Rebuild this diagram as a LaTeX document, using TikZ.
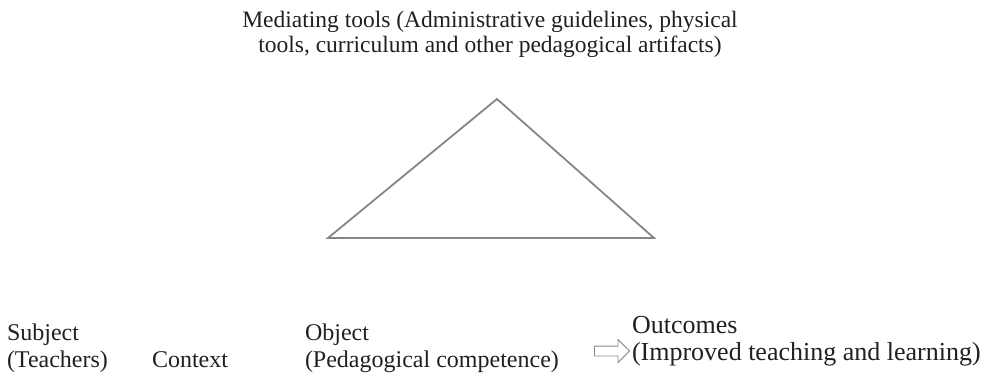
\documentclass[tikz,border=0pt]{standalone}
\usepackage{fontspec}
\setmainfont{Liberation Serif}
\usetikzlibrary{shapes.arrows}
\definecolor{linegray}{RGB}{135,135,128}
\definecolor{txt}{RGB}{35,31,32}
\tikzset{
  lbl/.style={inner sep=0pt, outer sep=0pt, text=txt, font=\fontsize{24}{27}\selectfont, align=left, anchor=base west},
  biglbl/.style={lbl, font=\fontsize{26}{27}\selectfont},
  toplbl/.style={inner sep=0pt, outer sep=0pt, text=txt, font=\fontsize{23.5}{25}\selectfont, align=center, anchor=base},
  tri/.style={draw=linegray, line width=1.8pt, line join=miter},
  hollowarrow/.style={single arrow, draw=linegray, line width=0.8pt, minimum width=22pt, minimum height=35pt, single arrow head extend=6.5pt, inner xsep=0pt, inner ysep=4.5pt}
}
\begin{document}
\begin{tikzpicture}[x=1pt,y=-1pt]
\useasboundingbox (0,0) rectangle (990,377);
\node[toplbl] (tools) at (490,53) {Mediating tools (Administrative guidelines, physical\\tools, curriculum and other pedagogical artifacts)};
\coordinate (top) at (497,99);
\coordinate (left) at (328,238);
\coordinate (right) at (654,238);
\draw[tri] (top) -- (left) -- (right) -- cycle;
\node[lbl] (subject) at (7,367) {Subject\\(Teachers)};
\node[lbl] (context) at (152,367) {Context};
\node[lbl] (object) at (305,367) {Object\\(Pedagogical competence)};
\node[hollowarrow] (arr) at (609.5,351) {};
\node[biglbl] (outcomes) at (632,360) {Outcomes\\(Improved teaching and learning)};
\end{tikzpicture}
\end{document}
